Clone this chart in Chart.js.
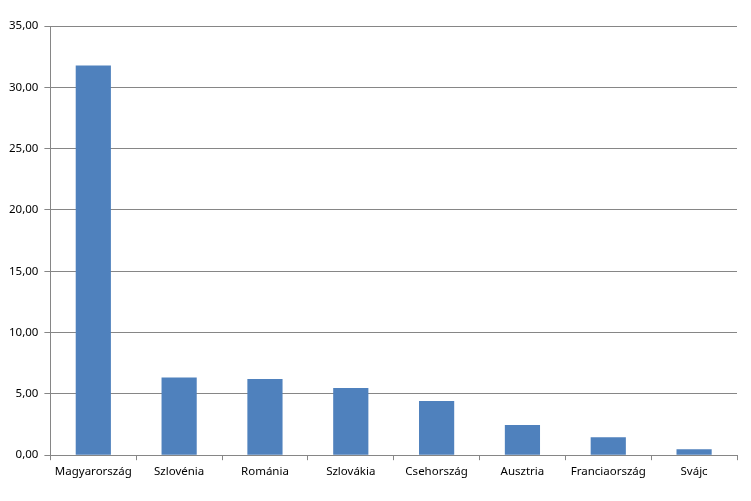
<!DOCTYPE html>
<html>
<head>
<meta charset="utf-8">
<script src="https://cdn.jsdelivr.net/npm/chart.js@4.4.0/dist/chart.umd.min.js"></script>
<style>
  html, body { margin: 0; padding: 0; background: #fff; }
  #wrap { width: 751px; height: 501px; }
</style>
</head>
<body>
<div id="wrap"><canvas id="barChart"></canvas></div>
<script>
var countries = ['Magyarország', 'Szlovénia', 'Románia', 'Szlovákia', 'Csehország', 'Ausztria', 'Franciaország', 'Svájc'];
var values = [31.77, 6.33, 6.22, 5.49, 4.42, 2.46, 1.47, 0.49];
var yMin = 0, yMax = 35, yStep = 5;

var ctx = document.getElementById('barChart').getContext('2d');
new Chart(ctx, {
    type: 'bar',
    data: {
        labels: countries,
        datasets: [{
            data: values,
            backgroundColor: '#4F81BD',
            borderWidth: 0,
            categoryPercentage: 1,
            barPercentage: 0.41
        }]
    },
    options: {
        responsive: true,
        maintainAspectRatio: false,
        animation: false,
        layout: { padding: { top: 26, right: 14, left: 3, bottom: 17 } },
        plugins: {
            legend: { display: false },
            tooltip: { enabled: false }
        },
        scales: {
            x: {
                offset: true,
                grid: {
                    offset: true,
                    drawOnChartArea: false,
                    drawTicks: true,
                    tickLength: 5,
                    color: '#868686'
                },
                border: { color: '#868686', width: 1 },
                ticks: {
                    color: '#000',
                    font: { family: 'Noto Sans', size: 11.5 },
                    maxRotation: 0,
                    padding: 5
                }
            },
            y: {
                min: yMin,
                max: yMax,
                grid: {
                    color: '#868686',
                    tickLength: 6
                },
                border: { color: '#868686', width: 1 },
                ticks: {
                    stepSize: yStep,
                    color: '#000',
                    font: { family: 'Noto Sans', size: 11.5 },
                    padding: 6,
                    callback: function (v) { return v.toFixed(2).replace('.', ','); }
                }
            }
        }
    }
});
</script>
</body>
</html>
